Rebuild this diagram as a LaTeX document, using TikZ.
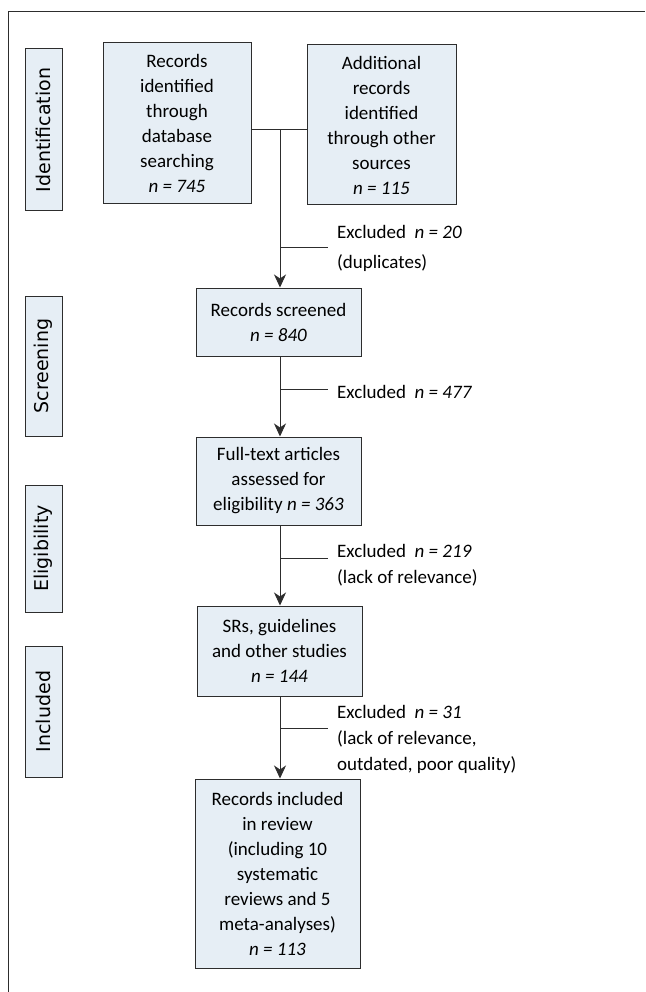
\documentclass[tikz,border=0pt]{standalone}
\usepackage{fontspec}
\setmainfont{Carlito}
\newfontfamily\sidefont{DejaVu Sans}
\usetikzlibrary{arrows.meta}
\definecolor{boxfill}{RGB}{230,238,245}
\definecolor{edge}{RGB}{45,45,45}
\begin{document}
\begin{tikzpicture}[x=1pt,y=-1pt,
  box/.style={draw=edge, fill=boxfill, line width=1pt, align=center, inner sep=0pt,
    font=\fontsize{19}{25}\selectfont},
  side/.style={draw=edge, fill=boxfill, line width=1pt, inner sep=0pt, rotate=90,
    minimum height=37pt, font=\sidefont\fontsize{19}{24}\selectfont},
  lbl/.style={anchor=west, inner sep=0pt, align=left, font=\fontsize{19}{26}\selectfont},
  conn/.style={draw=edge, line width=1pt},
  arr/.style={conn, -{Stealth[length=13pt,width=12pt,inset=4pt]}}]
\useasboundingbox (0,0) rectangle (645,992);
% frame
\draw[conn] (8,992) -- (8,12) -- (645,12);
% side labels
\node[side, minimum width=162pt] (s1) at (43.5,130) {Identification};
\node[side, minimum width=140pt] (s2) at (43.5,366) {Screening};
\node[side, minimum width=127pt] (s3) at (43.5,548.5) {Eligibility};
\node[side, minimum width=131pt] (s4) at (43.5,711.5) {Included};
% boxes
\node[box, minimum width=148pt, minimum height=161pt] (b1) at (177,123.5)
  {Records\\identified\\through\\database\\searching\\\textit{n = 745}};
\node[box, minimum width=149pt, minimum height=160pt] (b2) at (381.5,125)
  {Additional\\records\\identified\\through other\\sources\\\textit{n = 115}};
\node[box, minimum width=165pt, minimum height=68pt] (b3) at (278.5,322)
  {Records screened\\\textit{n = 840}};
\node[box, minimum width=165pt, minimum height=88pt] (b4) at (278.5,481)
  {Full-text articles\\assessed for\\eligibility \textit{n = 363}};
\node[box, minimum width=165pt, minimum height=90pt] (b5) at (279.5,651)
  {SRs, guidelines\\and other studies\\\textit{n = 144}};
\node[box, minimum width=165pt, minimum height=189pt] (b6) at (277.5,873.5)
  {Records included\\in review\\(including 10\\systematic\\reviews and 5\\meta-analyses)\\\textit{n = 113}};
% exclusion labels
\node[lbl, font=\fontsize{19}{30}\selectfont] (e1) at (337,248) {Excluded\ \ \textit{n = 20}\\(duplicates)};
\node[lbl] (e2) at (337,392) {Excluded\ \ \textit{n = 477}};
\node[lbl] (e3) at (337,565) {Excluded\ \ \textit{n = 219}\\(lack of relevance)};
\node[lbl] (e4) at (337,739) {Excluded\ \ \textit{n = 31}\\(lack of relevance,\\outdated, poor quality)};
% junctions
\coordinate (j0) at (280,130);
\coordinate (j1) at (280,247);
\coordinate (j2) at (280,389);
\coordinate (j3) at (280,558);
\coordinate (j4) at (280,728);
% connectors
\draw[conn] (j0 -| b1.east) -- (j0 -| b2.west);
\draw[arr] (j0) -- (j0 |- b3.north);
\draw[arr] (j0 |- b3.south) -- (j0 |- b4.north);
\draw[arr] (j0 |- b4.south) -- (j0 |- b5.north);
\draw[arr] (j0 |- b5.south) -- (j0 |- b6.north);
\draw[conn] (j1) -- ++(48,0);
\draw[conn] (j2) -- ++(48,0);
\draw[conn] (j3) -- ++(48,0);
\draw[conn] (j4) -- ++(48,0);
\end{tikzpicture}
\end{document}
